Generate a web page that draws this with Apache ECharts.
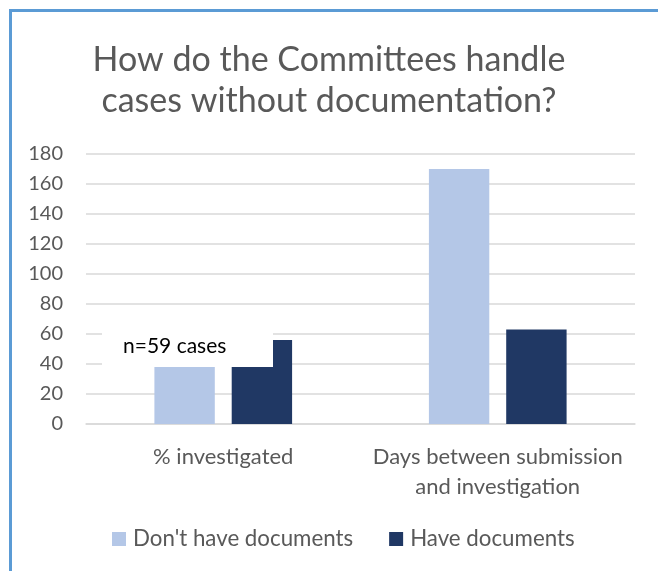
<!DOCTYPE html>
<html><head><meta charset="utf-8">
<script src="https://cdn.jsdelivr.net/npm/echarts@6/dist/echarts.min.js"></script>
<style>html,body{margin:0;padding:0;background:#fff}#c{width:658px;height:571px}</style>
</head><body><div id="c"></div>
<script>
const titleText = "How do the Committees handle\ncases without documentation?";
const categories = ["% investigated", "Days between submission\nand investigation"];
const seriesNames = ["Don't have documents", "Have documents"];
const dontHave = [38, 170];
const have = [56, 63];
const yTicks = {min: 0, max: 180, interval: 20};
const note = "n=59 cases";

const FONT = "Lato";
const chart = echarts.init(document.getElementById('c'), null, {renderer: 'canvas'});
chart.setOption({
  backgroundColor: '#fff',
  animation: false,
  textStyle: {fontFamily: FONT},
  title: {
    text: titleText, left: 'center', top: 35,
    textStyle: {fontFamily: FONT, fontSize: 34, fontWeight: 'normal', color: '#595959', lineHeight: 41}
  },
  legend: {
    data: seriesNames, bottom: 16, left: 107, itemWidth: 14, itemHeight: 14, itemGap: 36,
    icon: 'rect',
    textStyle: {fontFamily: FONT, fontSize: 22.3, color: '#595959', padding: [0, 0, 0, 2]}
  },
  grid: {left: 86, right: 23, top: 154, bottom: 147},
  xAxis: {
    type: 'category', data: categories,
    axisLine: {show: true, lineStyle: {color: '#d9d9d9', width: 1.5}},
    axisTick: {show: false},
    axisLabel: {interval: 0, fontFamily: FONT, fontSize: 22, color: '#595959', lineHeight: 30, margin: 18}
  },
  yAxis: {
    type: 'value', min: yTicks.min, max: yTicks.max, interval: yTicks.interval,
    axisLine: {show: false}, axisTick: {show: false},
    axisLabel: {fontFamily: FONT, fontSize: 20, color: '#595959', margin: 23},
    splitLine: {lineStyle: {color: '#d9d9d9', width: 1.5}}
  },
  series: [
    {name: seriesNames[0], type: 'bar', data: dontHave, barWidth: '22%', barGap: '28%',
     itemStyle: {color: '#B4C7E7'}},
    {name: seriesNames[1], type: 'bar', data: have, barWidth: '22%',
     itemStyle: {color: '#203864'}}
  ]
});

// annotation box placed using the axis scale
const p0 = chart.convertToPixel({gridIndex: 0}, [0, 60]);
const p1 = chart.convertToPixel({gridIndex: 0}, [0, dontHave[0]]);
chart.setOption({
  graphic: [
    {type: 'rect', z: 100, shape: {x: 102, y: p0[1] - 6, width: 171, height: p1[1] - p0[1] + 6},
     style: {fill: '#fff'}},
    {type: 'text', z: 101, x: 123, y: (p0[1] - 6 + p1[1]) / 2 - 1,
     style: {text: note, fontFamily: FONT, fontSize: 21, fill: '#000', verticalAlign: 'middle'}},
    {type: 'rect', z: 102, shape: {x: 10.5, y: 10.5, width: 700, height: 620},
     style: {fill: 'none', stroke: '#5B9BD5', lineWidth: 3}}
  ]
});
</script></body></html>
